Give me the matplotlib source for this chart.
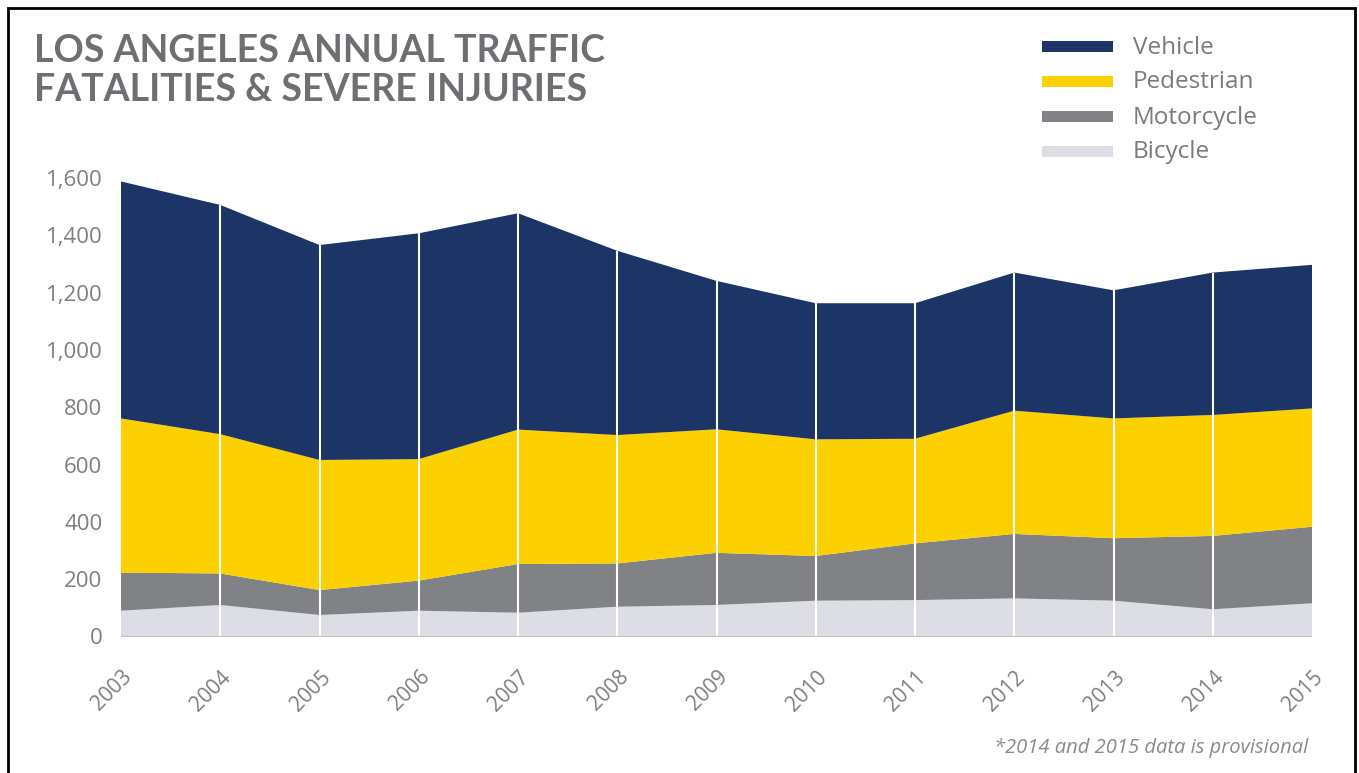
import matplotlib
matplotlib.use("Agg")
import matplotlib.pyplot as plt
from matplotlib.patches import Rectangle
from matplotlib.ticker import FuncFormatter
import matplotlib.transforms as mtransforms

# Annual traffic fatalities & severe injuries in Los Angeles, by mode
years = [2003, 2004, 2005, 2006, 2007, 2008, 2009, 2010, 2011, 2012, 2013, 2014, 2015]
bicycle = [90, 110, 75, 90, 83, 104, 110, 125, 127, 133, 125, 95, 116]
motorcycle = [133, 110, 87, 105, 170, 151, 182, 156, 198, 225, 218, 256, 267]
pedestrian = [538, 486, 454, 424, 469, 448, 431, 407, 365, 430, 418, 422, 413]
vehicle = [827, 800, 750, 788, 755, 643, 518, 475, 473, 482, 447, 497, 501]

series_names = ["Vehicle", "Pedestrian", "Motorcycle", "Bicycle"]
colors = {"Vehicle": "#1c3566", "Pedestrian": "#fdd000",
          "Motorcycle": "#808285", "Bicycle": "#dcdde5"}
y_ticks = [0, 200, 400, 600, 800, 1000, 1200, 1400, 1600]

W, H = 1359, 773
fig = plt.figure(figsize=(W / 100, H / 100), dpi=100)
fig.patch.set_facecolor("white")

def fx(x):
    return x / W

def fy(y):
    return 1 - y / H

ax = fig.add_axes([fx(121), fy(636.5), fx(1312) - fx(121), fy(178) - fy(636.5)])

stack_order = [bicycle, motorcycle, pedestrian, vehicle]
stack_colors = [colors["Bicycle"], colors["Motorcycle"], colors["Pedestrian"], colors["Vehicle"]]
ax.stackplot(years, *stack_order, colors=stack_colors, linewidth=0)

totals = [b + m + p + v for b, m, p, v in zip(bicycle, motorcycle, pedestrian, vehicle)]
ax.vlines(years[1:-1], 0, totals[1:-1], colors="white", linewidth=1.5, zorder=3)
ax.plot([years[0], years[-1]], [0, 0], color="#c4c4c4", linewidth=1.6, zorder=4,
        solid_capstyle="butt")

ax.set_xlim(years[0], years[-1])
ax.set_ylim(0, 1600)
for s in ax.spines.values():
    s.set_visible(False)
ax.set_facecolor("none")

tick_font = dict(family="Open Sans", size=16, color="#7f7f7f")
ax.set_yticks(y_ticks)
ax.yaxis.set_major_formatter(FuncFormatter(lambda v, _: f"{int(v):,}"))
ax.tick_params(axis="y", length=0, pad=13.5)
for lab in ax.get_yticklabels():
    lab.set_fontfamily(tick_font["family"])
    lab.set_fontsize(tick_font["size"])
    lab.set_color(tick_font["color"])

ax.set_xticks(years)
ax.set_xticklabels([str(y) for y in years])
ax.tick_params(axis="x", length=0, pad=27)
shift = mtransforms.ScaledTranslation(8 / 100, 0, fig.dpi_scale_trans)
for lab in ax.get_xticklabels():
    lab.set_fontfamily(tick_font["family"])
    lab.set_fontsize(15)
    lab.set_color(tick_font["color"])
    lab.set_rotation(45)
    lab.set_ha("right")
    lab.set_va("center")
    lab.set_rotation_mode("anchor")
    lab.set_transform(lab.get_transform() + shift)

# Title
title_font = dict(family="Lato", weight="bold", size=27, color="#6e6f73")
fig.text(fx(34), fy(62), "LOS ANGELES ANNUAL TRAFFIC", ha="left", va="baseline", **title_font)
fig.text(fx(34), fy(101), "FATALITIES & SEVERE INJURIES", ha="left", va="baseline", **title_font)

# Legend
legend_rows = [46, 81, 116, 151]
for name, yc in zip(series_names, legend_rows):
    fig.patches.append(Rectangle((fx(1042), fy(yc + 5.5)), fx(1113) - fx(1042), 11 / H,
                                 transform=fig.transFigure, facecolor=colors[name],
                                 edgecolor="none"))
    fig.text(fx(1133), fy(yc + 7.5), name, ha="left", va="baseline",
             family="Open Sans", size=17.5, color="#7a7a7a")

# Footnote
fig.text(fx(1308), fy(748), "*2014 and 2015 data is provisional", ha="right", va="center",
         family="Open Sans", style="italic", size=14.5, color="#8a8a8a")

# Outer frame
fig.patches.append(Rectangle((fx(8), -0.02), fx(1355) - fx(8), fy(8) + 0.02,
                             transform=fig.transFigure, facecolor="none",
                             edgecolor="black", linewidth=2))

fig.savefig("out.png", dpi=100, facecolor="white")
